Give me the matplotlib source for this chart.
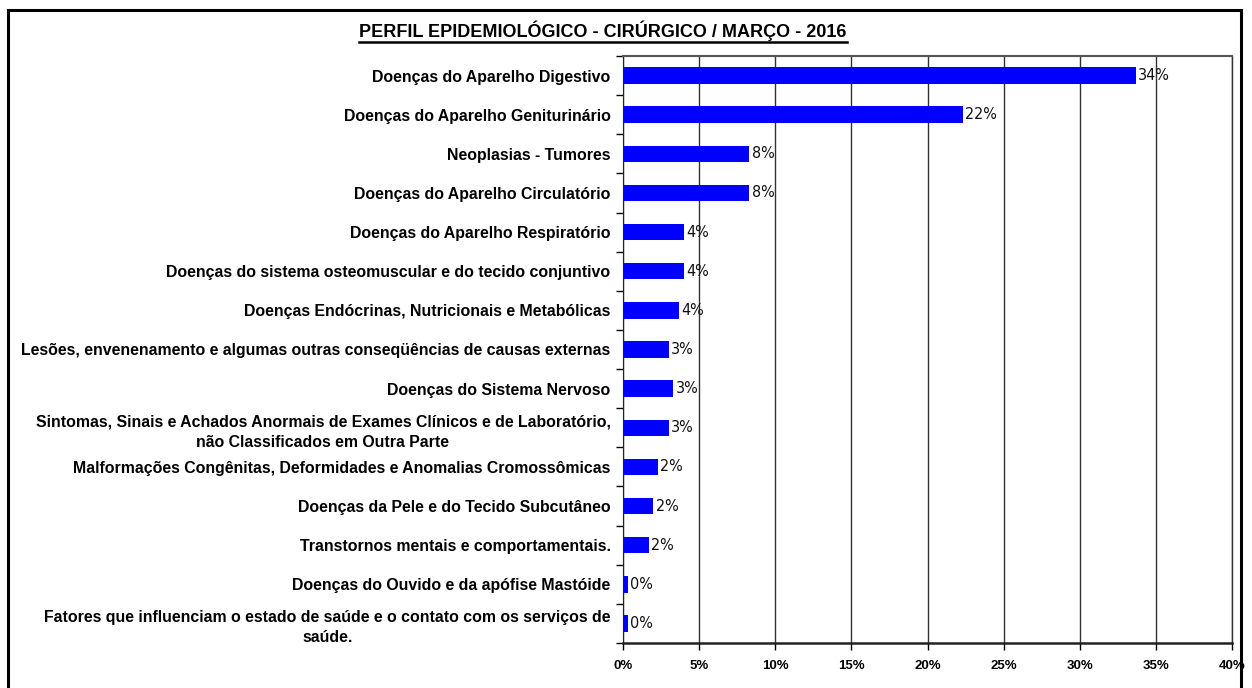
import numpy as np
import matplotlib
matplotlib.use('Agg')
import matplotlib.pyplot as plt
from matplotlib.lines import Line2D
from matplotlib.patches import Rectangle

plt.rcParams['font.family'] = ['Liberation Sans', 'DejaVu Sans']

# categories (top to bottom) and percentages
categorias = [
    'Doenças do Aparelho Digestivo',
    'Doenças do Aparelho Geniturinário',
    'Neoplasias - Tumores',
    'Doenças do Aparelho Circulatório',
    'Doenças do Aparelho Respiratório',
    'Doenças do sistema osteomuscular e do tecido conjuntivo',
    'Doenças Endócrinas, Nutricionais e Metabólicas',
    'Lesões, envenenamento e algumas outras conseqüências de causas externas',
    'Doenças do Sistema Nervoso',
    'Sintomas, Sinais e Achados Anormais de Exames Clínicos e de Laboratório,\nnão Classificados em Outra Parte',
    'Malformações Congênitas, Deformidades e Anomalias Cromossômicas',
    'Doenças da Pele e do Tecido Subcutâneo',
    'Transtornos mentais e comportamentais.',
    'Doenças do Ouvido e da apófise Mastóide',
    'Fatores que influenciam o estado de saúde e o contato com os serviços de\nsaúde.',
]
valores = [33.7, 22.3, 8.3, 8.3, 4.0, 4.0, 3.7, 3.0, 3.3, 3.0, 2.3, 2.0, 1.7, 0.3, 0.3]
xticks = [0, 5, 10, 15, 20, 25, 30, 35, 40]

fig = plt.figure(figsize=(12.52, 6.88), dpi=100)
ax = fig.add_axes([623/1252, 1-643/688, (1232-623)/1252, (643-56)/688])

n = len(categorias)
y = np.arange(n)
ax.barh(y, valores, height=0.42, color='#0000FF', zorder=3)

for yi, v in zip(y, valores):
    ax.text(v + 0.15, yi, '%d%%' % round(v), va='center', ha='left',
            fontsize=11.5, family='DejaVu Sans', stretch='condensed', color='#111111', zorder=4)

ax.set_xlim(0, 40)
ax.set_ylim(n - 0.5, -0.5)
ax.set_xticks(xticks)
ax.set_xticklabels(['%d%%' % t for t in xticks], fontsize=9.5, fontweight='bold')
ax.xaxis.grid(True, color='#333333', linewidth=1.0, zorder=0)

ax.set_yticks(np.arange(n + 1) - 0.5)
ax.set_yticklabels([])
ax.set_yticks(y, minor=True)
ax.set_yticklabels(categorias, minor=True, fontsize=11.4, fontweight='bold')
for lbl in ax.get_yticklabels(minor=True):
    lbl.set_multialignment('center')
    lbl.set_linespacing(1.45)
ax.tick_params(axis='y', which='minor', length=0, pad=9)
ax.tick_params(axis='y', which='major', length=5, width=1, direction='out')
ax.tick_params(axis='x', length=5, width=1, direction='out', pad=7)

ax.spines['left'].set_color('#222222')
ax.spines['bottom'].set_color('#222222')
ax.spines['bottom'].set_linewidth(1.8)
ax.spines['top'].set_color('#555555')
ax.spines['top'].set_linewidth(1.5)
ax.spines['right'].set_color('#333333')
ax.spines['right'].set_linewidth(1.0)

# outer chart border
fig.patches.append(Rectangle((8/1252, -0.05), (1241-8)/1252, 1.05 - 10/688,
                             transform=fig.transFigure, fill=False,
                             edgecolor='black', linewidth=2.2))

# underlined title
t = fig.text(603/1252, 1-31/688, 'PERFIL EPIDEMIOLÓGICO - CIRÚRGICO / MARÇO - 2016',
             ha='center', va='center', fontsize=13, fontweight='bold')
fig.canvas.draw()
bb = t.get_window_extent()
fig.lines.append(Line2D([bb.x0, bb.x1], [bb.y0 - 1, bb.y0 - 1], transform=None,
                        color='black', linewidth=1.8))

fig.savefig('out.png', dpi=100)
